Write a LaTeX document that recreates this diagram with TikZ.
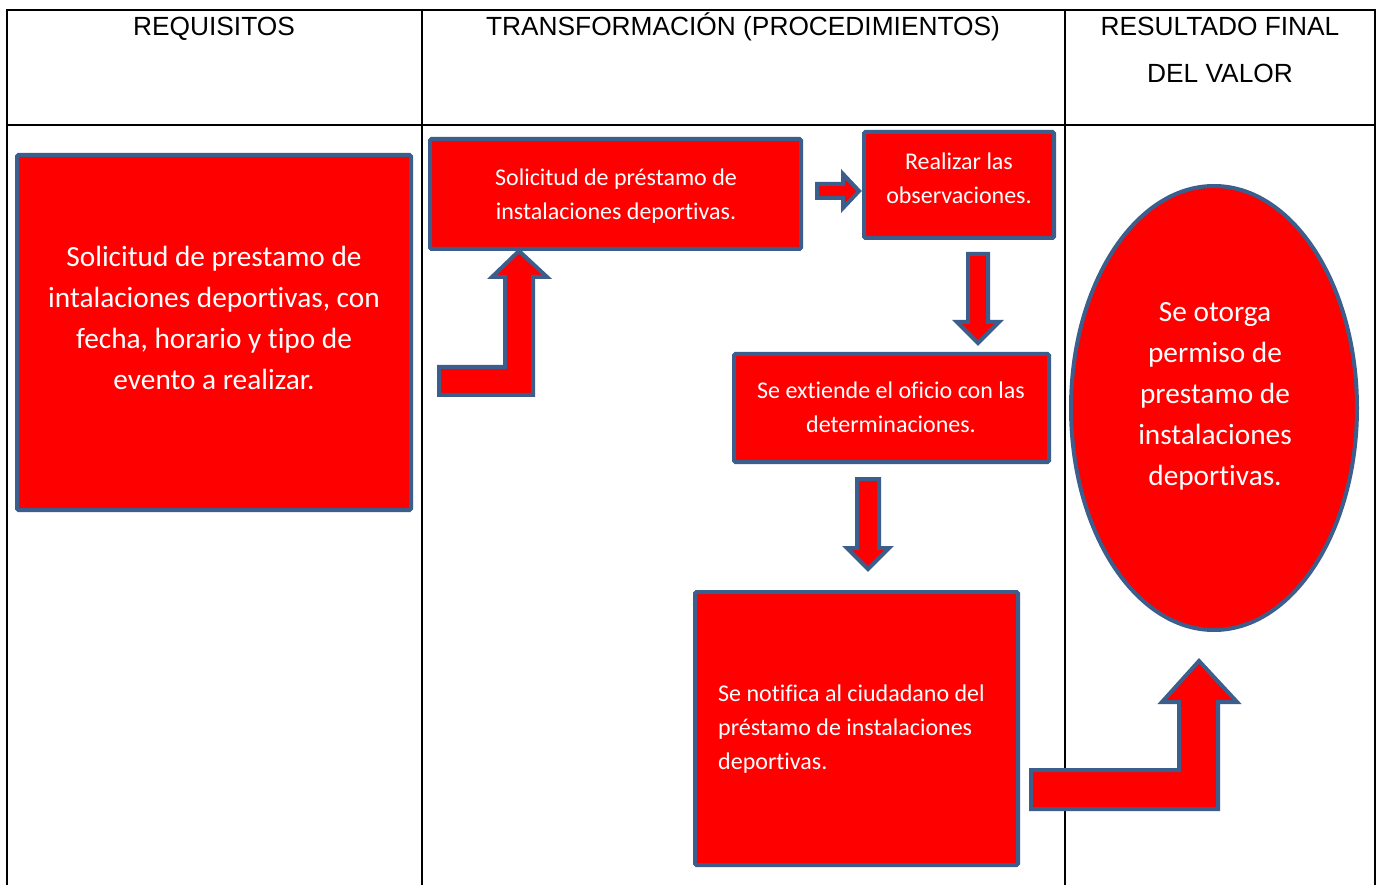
\documentclass[tikz,border=0pt]{standalone}
\usepackage{fontspec}
\setmainfont{Carlito}[Ligatures={NoCommon,NoRequired,NoContextual}, Contextuals=NoAlternate]
\newfontfamily\hdrfont{Liberation Sans}
\usetikzlibrary{shapes.geometric}
\definecolor{boxred}{RGB}{255,0,0}
\definecolor{boxblue}{RGB}{59,94,140}
\begin{document}
\begin{tikzpicture}[x=1pt,y=-1pt,
  tbl/.style={line width=2pt, draw=black},
  stepbox/.style={draw=boxblue, fill=boxred, line width=4pt, rounded corners=1.5pt, inner sep=0pt, rectangle},
  ovalbox/.style={draw=boxblue, fill=boxred, line width=4pt, inner sep=0pt, ellipse},
  blockarrow/.style={draw=boxblue, fill=boxred, line width=4pt, line join=miter},
  bigtxt/.style={text=white, font=\fontsize{29.3}{41}\selectfont, align=center, inner sep=0pt},
  smalltxt/.style={text=white, font=\fontsize{24}{34}\selectfont, align=center, inner sep=0pt},
  hdr/.style={font=\hdrfont\fontsize{26.3}{46.5}\selectfont, inner sep=0pt, align=center}]

\fill[white] (0,0) rectangle (1377,885);
\useasboundingbox (0,0) rectangle (1377,885);

% table
\draw[tbl] (7,885) -- (7,10) -- (1375,10) -- (1375,885);
\draw[tbl] (7,125) -- (1375,125);
\draw[tbl] (422,10) -- (422,885);
\draw[tbl] (1065,10) -- (1065,885);

% headers
\node[hdr, anchor=base] (h1) at (214,36) {REQUISITOS};
\node[hdr, anchor=base] (h2) at (743,36) {TRANSFORMACIÓN (PROCEDIMIENTOS)};
\node[hdr] (h3) at (1220,50) {RESULTADO FINAL\\DEL VALOR};

% boxes
\node[stepbox, minimum width=394pt, minimum height=355pt] (b1) at (214,332.5) {};
\node[bigtxt] (t1) at (214,318) {Solicitud de prestamo de\\intalaciones deportivas, con\\fecha, horario y tipo de\\evento a realizar.};

\node[stepbox, minimum width=371pt, minimum height=110pt] (b2) at (615.5,194) {};
\node[smalltxt] (t2) at (616,196) {Solicitud de préstamo de\\instalaciones deportivas.};

\node[stepbox, minimum width=190pt, minimum height=106pt] (b3) at (959,185) {};
\node[smalltxt] (t3) at (959,178) {Realizar las\\observaciones.};

\node[stepbox, minimum width=315pt, minimum height=108pt] (b4) at (891.5,408) {};
\node[smalltxt] (t4) at (891,407.5) {Se extiende el oficio con las\\determinaciones.};

\node[stepbox, minimum width=323pt, minimum height=273pt] (b5) at (856.5,728.5) {};
\node[smalltxt, align=left, anchor=west] (t5) at (718,729) {Se notifica al ciudadano del\\préstamo de instalaciones\\deportivas.};

\node[ovalbox, minimum width=286pt, minimum height=444pt] (e1) at (1214,408) {};
\node[bigtxt] (t6) at (1215,396.5) {Se otorga\\permiso de\\prestamo de\\instalaciones\\deportivas.};

% block arrows
\draw[blockarrow] (439,367) -- (505,367) -- (505,277) -- (492,277) -- (519,251) -- (547,277) -- (533,277) -- (533,395) -- (439,395) -- cycle;
\draw[blockarrow] (817,184) -- (843,184) -- (843,174) -- (859,191) -- (843,208) -- (843,198) -- (817,198) -- cycle;
\draw[blockarrow] (968,254) -- (988,254) -- (988,322) -- (999,322) -- (978,343) -- (957,322) -- (968,322) -- cycle;
\draw[blockarrow] (857,479) -- (879,479) -- (879,548) -- (889,548) -- (868,569) -- (847,548) -- (857,548) -- cycle;
\draw[blockarrow] (1031,770) -- (1179,770) -- (1179,702) -- (1162,702) -- (1199,661) -- (1237,702) -- (1218,702) -- (1218,809) -- (1031,809) -- cycle;
\end{tikzpicture}
\end{document}
